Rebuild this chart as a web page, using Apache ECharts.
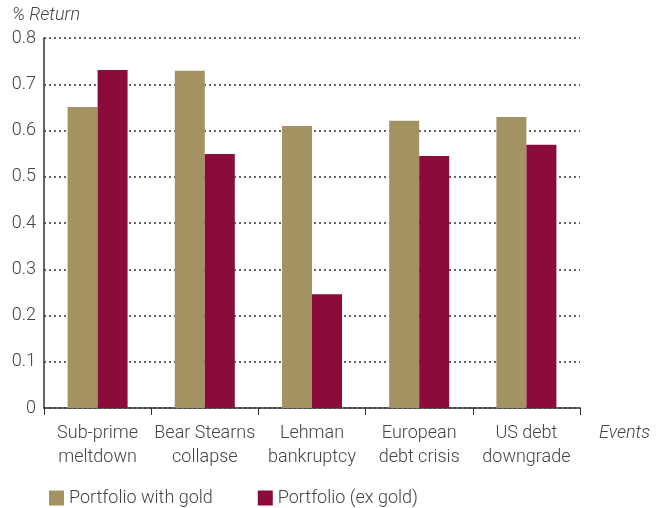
<!DOCTYPE html>
<html>
<head>
<meta charset="utf-8">
<script src="https://cdn.jsdelivr.net/npm/echarts@6/dist/echarts.min.js"></script>
<style>
  html, body { margin: 0; padding: 0; background: #fff; }
  #chart { width: 669px; height: 508px; }
</style>
</head>
<body>
<div id="chart"></div>
<script>
// Returns per market event, with and without gold in the portfolio
const categories = ['Sub-prime\nmeltdown', 'Bear Stearns\ncollapse', 'Lehman\nbankruptcy', 'European\ndebt crisis', 'US debt\ndowngrade'];
const withGold = [0.651, 0.729, 0.610, 0.621, 0.629];
const exGold = [0.731, 0.549, 0.246, 0.545, 0.569];
const yTicks = [0, 0.1, 0.2, 0.3, 0.4, 0.5, 0.6, 0.7, 0.8];

const FONT = 'Roboto';
const FS = 18;
const TEXT = '#444';
const GOLD = '#A39262';
const WINE = '#8B0C3A';

const chart = echarts.init(document.getElementById('chart'), null, { renderer: 'canvas' });
chart.setOption({
  animation: false,
  textStyle: { fontFamily: FONT },
  grid: { left: 44, right: 89, top: 38, bottom: 100, containLabel: false },
  legend: {
    left: 44, top: 484, itemWidth: 15, itemHeight: 15, itemGap: 45,
    icon: 'rect',
    textStyle: { fontFamily: FONT, fontSize: FS, color: TEXT, fontWeight: 300 },
    data: ['Portfolio with gold', 'Portfolio (ex gold)']
  },
  xAxis: {
    type: 'category',
    data: categories,
    name: 'Events',
    nameLocation: 'end',
    nameGap: 19,
    nameTextStyle: { fontFamily: FONT, fontSize: FS, color: TEXT, fontStyle: 'italic', fontWeight: 300, verticalAlign: 'top', padding: [16, 0, 0, 0] },
    axisLine: { lineStyle: { color: '#333', width: 1.5 } },
    axisTick: { show: true, length: 7, lineStyle: { color: '#333', width: 1 } },
    axisLabel: { fontFamily: FONT, fontSize: FS, color: TEXT, fontWeight: 300, margin: 13, lineHeight: 24, interval: 0 },
    splitLine: { show: false }
  },
  yAxis: {
    type: 'value',
    min: 0, max: 0.8, interval: 0.1,
    name: '% Return',
    nameLocation: 'end',
    nameGap: 14,
    nameTextStyle: { fontFamily: FONT, fontSize: FS, color: TEXT, fontStyle: 'italic', fontWeight: 300, align: 'left', padding: [0, 0, 0, -32] },
    axisLine: { show: true, lineStyle: { color: '#333', width: 1.5 } },
    axisTick: { show: false },
    axisLabel: {
      fontFamily: FONT, fontSize: FS, color: TEXT, fontWeight: 300, margin: 8,
      formatter: v => {
        const t = yTicks.find(x => Math.abs(x - v) < 1e-9);
        return t === 0 ? '0' : String(Math.round(t * 10) / 10);
      }
    },
    splitLine: { show: true, lineStyle: { color: '#333', type: [2, 3], width: 1.5 } }
  },
  series: [
    { name: 'Portfolio with gold', type: 'bar', data: withGold, barWidth: 30, barGap: '0%', itemStyle: { color: GOLD } },
    { name: 'Portfolio (ex gold)', type: 'bar', data: exGold, barWidth: 30, barGap: '0%', itemStyle: { color: WINE } }
  ]
});
</script>
</body>
</html>
